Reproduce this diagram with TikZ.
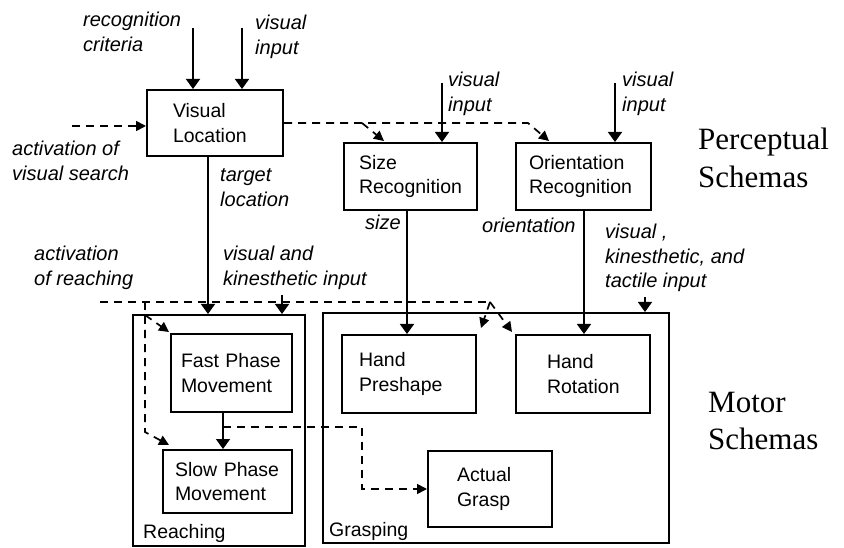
\documentclass[tikz,border=0pt]{standalone}
\usepackage{fontspec}
\setmainfont{Liberation Sans}
\newfontfamily\serifF{Liberation Serif}
\usetikzlibrary{arrows.meta}
\newcommand{\mlines}[1]{\begin{tabular}[t]{@{}l@{}}#1\end{tabular}}
\begin{document}
\begin{tikzpicture}[x=1pt,y=-1pt,
  box/.style={draw, line width=2pt, align=left, inner xsep=0pt, inner ysep=0pt,
     font=\fontsize{19.5}{24.5}\selectfont},
  obox/.style={draw, line width=2pt, inner sep=0pt},
  arr/.style={line width=1.6pt, -{Triangle[width=14pt,length=10pt]}},
  dl/.style={line width=1.7pt, dash pattern=on 8pt off 6pt},
  darr/.style={dl, -{Triangle[width=10pt,length=10pt]}},
  lab/.style={anchor=base west, inner sep=0pt, font=\itshape\fontsize{20}{24.5}\selectfont},
  plain/.style={anchor=base west, inner sep=0pt, font=\fontsize{19.5}{24}\selectfont},
  big/.style={anchor=base west, inner sep=0pt, font=\serifF\fontsize{31}{37.5}\selectfont}
]
\useasboundingbox (0,0) rectangle (844,548);

% perceptual boxes
\node[box, minimum width=136, minimum height=66, text width=84pt] (vl) at (215,123) {Visual\\Location};
\node[box, minimum width=133, minimum height=67, text width=103pt] (sr) at (410.5,176.5) {Size\\Recognition};
\node[box, minimum width=135, minimum height=67, text width=109pt] (or) at (583.5,176.5) {Orientation\\Recognition};

% outer boxes
\node[obox, minimum width=172, minimum height=231] (reach) at (219,430.5) {};
\node[obox, minimum width=346, minimum height=230] (grasp) at (496,428) {};

% motor boxes
\node[box, minimum width=121, minimum height=78, text width=101pt] (fast) at (231.5,373) {Fast Phase\\Movement};
\node[box, minimum width=129, minimum height=63, text width=105pt] (slow) at (227.5,481.5) {Slow Phase\\Movement};
\node[box, minimum width=134, minimum height=78, text width=100pt] (hp) at (409,374) {Hand\\Preshape};
\node[box, minimum width=134, minimum height=78, text width=72pt] (hr) at (583,374) {Hand\\Rotation};
\node[box, minimum width=124, minimum height=76, text width=66pt] (ag) at (490,489) {Actual\\Grasp};

% labels
\node[lab] (lrc) at (83,27) {\mlines{recognition\\criteria}};
\node[lab] (lvi1) at (255,30) {\mlines{visual\\input}};
\node[lab] (lavs) at (12,156) {\mlines{activation of\\visual search}};
\node[lab] (ltl) at (220,182) {\mlines{target\\location}};
\node[lab] (lvi2) at (448,87) {\mlines{visual\\input}};
\node[lab] (lvi3) at (622,87) {\mlines{visual\\input}};
\node[lab] (lsize) at (365,230) {size};
\node[lab] (lori) at (482,233) {orientation};
\node[lab] (lvkt) at (605,239) {\mlines{visual ,\\kinesthetic, and\\tactile input}};
\node[lab] (lar) at (34,261) {\mlines{activation\\of reaching}};
\node[lab] (lvk) at (223,261) {\mlines{visual and\\kinesthetic input}};
\node[plain] (lreach) at (143,538) {Reaching};
\node[plain] (lgrasp) at (329,536) {Grasping};
\node[big] (lps) at (698,150) {\mlines{Perceptual\\Schemas}};
\node[big] (lms) at (708,412) {\mlines{Motor\\Schemas}};

% free ends
\coordinate (rc) at (193,28);
\coordinate (vi1) at (242,28);
\coordinate (avs) at (72,126);
\coordinate (vi2) at (442,83);
\coordinate (vi3) at (615,83);
\coordinate (ori) at (584,210);
\coordinate (d1) at (362,123);
\coordinate (d2) at (528,123);
\coordinate (ar0) at (100,302);
\coordinate (j1) at (145,302);
\coordinate (j2) at (490,302);
\coordinate (vjt) at (145,315);
\coordinate (vjb) at (145,432);
\coordinate (vk) at (282,295);
\coordinate (tk) at (645,297);
\coordinate (fs) at (223,427);

% solid connectors
\draw[arr] (rc) -- (rc |- vl.north);
\draw[arr] (vi1) -- (vi1 |- vl.north);
\draw[arr] (vi2) -- (vi2 |- sr.north);
\draw[arr] (vi3) -- (vi3 |- or.north);
\draw[arr] ([xshift=-7]vl.south) -- ([xshift=-7]vl.south |- reach.north);
\draw[arr] ([xshift=-3.5]sr.south) -- ([xshift=-3.5]sr.south |- hp.north);
\draw[arr] (ori |- or.south) -- (ori |- hr.north);
\draw[arr] ([xshift=-8.5]fast.south) -- ([xshift=-8.5]fast.south |- slow.north);
\draw[arr] (vk) -- (vk |- reach.north);
\draw[arr] (tk) -- (tk |- grasp.north);

% dashed connectors
\draw[darr] (avs) -- (vl.west |- avs);
\draw[darr] (vl.east) -- (d2) -- ([xshift=34,yshift=1]or.north west);
\draw[darr] (d1) -- ([xshift=41,yshift=1]sr.north west);
\draw[dl] (ar0) -- (j2);
\draw[darr] (j2) -- ([xshift=4,yshift=6]hp.north east);
\draw[darr] (j2) -- ([xshift=-3,yshift=2]hr.north west);
\draw[darr] (j1) -- (vjb) -- ([xshift=7,yshift=4]slow.north west);
\draw[darr] (vjt) -- ([xshift=-1,yshift=1]fast.north west);
\draw[darr] (fs) -- ++(139,0) |- (ag.west);
\end{tikzpicture}
\end{document}
